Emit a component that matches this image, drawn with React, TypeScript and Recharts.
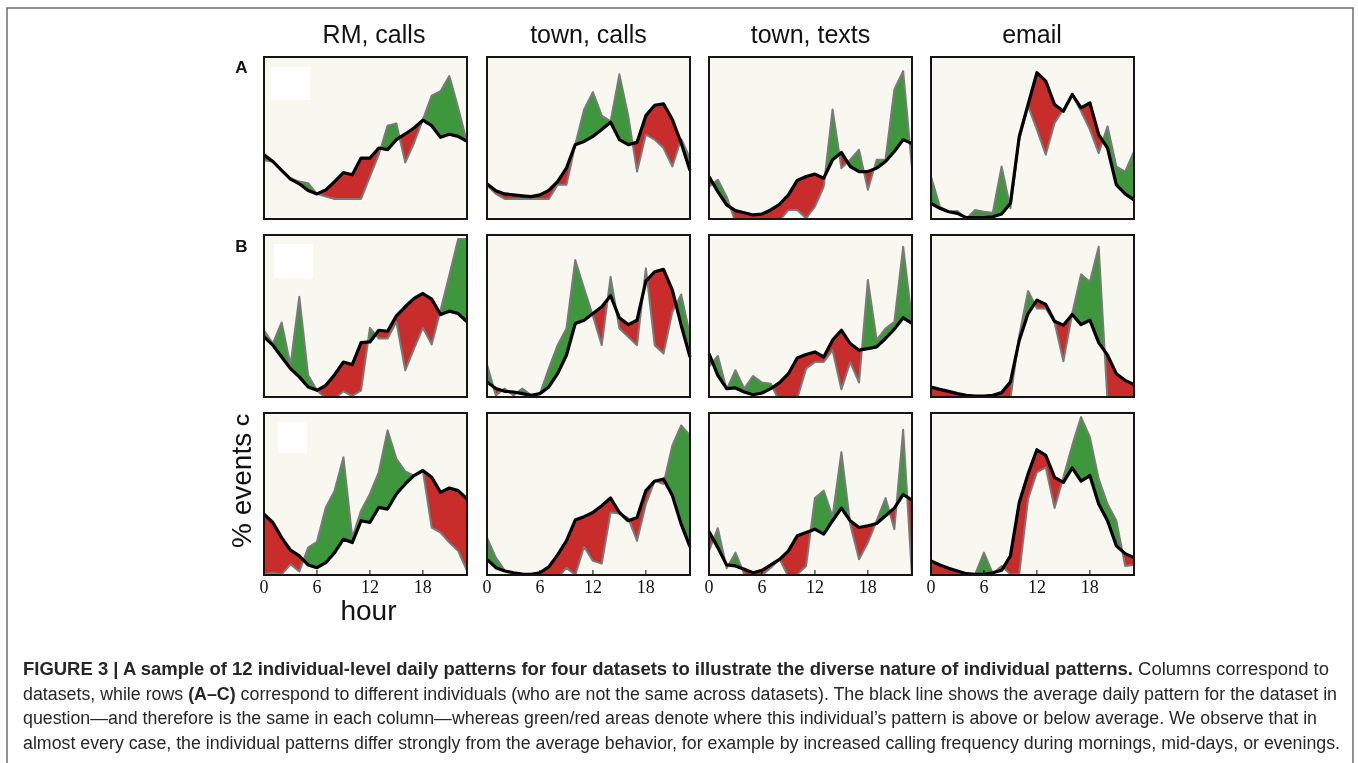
import React from "react";
import { ComposedChart, Area, Line, XAxis, YAxis } from "recharts";

// hours of the day on the x axis
const HOURS = [0, 1, 2, 3, 4, 5, 6, 7, 8, 9, 10, 11, 12, 13, 14, 15, 16, 17, 18, 19, 20, 21, 22, 23];
const HOUR_TICKS = [0, 6, 12, 18];
const COLUMN_TITLES = ["RM, calls", "town, calls", "town, texts", "email"];
const ROW_LABELS = ["A", "B", "C"];

// values are % of each panel's height (panels are scaled one by one)
// row A
const avgA1 = [39.7, 35.5, 30.0, 24.6, 21.7, 17.6, 15.5, 18.0, 23.1, 28.7, 27.3, 37.6, 37.6, 43.8, 42.8, 49.0, 52.5, 56.2, 61.0, 57.6, 50.4, 52.3, 51.0, 47.9];
const indA1 = [36.2, 35.5, 30.0, 25.2, 23.1, 22.1, 15.5, 13.8, 12.4, 12.4, 12.4, 12.4, 26.2, 39.7, 57.6, 58.9, 34.9, 46.9, 61.4, 76.2, 78.9, 88.2, 68.6, 47.3];
const avgA2 = [21.7, 17.4, 15.5, 14.9, 14.3, 13.8, 14.9, 17.6, 23.1, 31.4, 45.9, 47.9, 51.0, 55.2, 59.7, 49.0, 45.9, 47.3, 63.8, 70.2, 71.1, 61.4, 46.9, 30.0];
const indA2 = [20.7, 15.5, 12.4, 12.4, 12.4, 12.4, 12.4, 12.4, 21.1, 21.1, 45.9, 67.6, 78.3, 63.8, 60.3, 89.3, 63.8, 29.3, 52.1, 49.0, 43.8, 32.4, 49.4, 37.6];
const avgA3 = [26.2, 16.9, 8.7, 5.2, 3.9, 2.5, 3.1, 5.6, 9.1, 14.9, 23.8, 26.2, 27.7, 25.2, 36.6, 41.1, 32.4, 29.3, 29.3, 31.4, 35.5, 41.7, 49.0, 46.5];
const indA3 = [20.0, 24.2, 13.8, -2, -3, -3, -2, -1, -1, 5.6, 5.6, 0.4, 7.6, 20.0, 67.6, 31.4, 36.6, 42.8, 18.0, 36.6, 36.6, 80.0, 91.3, 31.4];
const avgA4 = [9.7, 6.6, 4.5, 3.5, 0.8, 0.8, 0.8, 1.4, 3.1, 9.7, 51.0, 70.7, 90.3, 85.1, 70.7, 66.5, 76.9, 68.6, 71.7, 52.1, 43.8, 21.1, 15.5, 11.8];
const indA4 = [26.2, 7.6, 4.5, 5.0, 0, 5.6, 4.5, 3.9, 32.4, 6.6, 49.0, 69.6, 55.2, 39.7, 59.3, 67.6, 76.9, 66.5, 55.2, 40.7, 57.2, 32.4, 29.3, 41.7];
// row B
const avgB1 = [37.1, 32.0, 24.7, 17.5, 12.4, 6.2, 4.1, 7.2, 13.8, 21.6, 20.0, 33.6, 34.0, 41.2, 40.6, 50.1, 55.7, 60.8, 63.9, 60.4, 50.9, 53.0, 51.5, 46.4];
const indB1 = [41.2, 33.0, 46.0, 19.6, 61.9, 13.4, 4.1, -1, -1, 3.5, 0.6, 4.1, 42.7, 36.1, 36.1, 46.4, 16.5, 29.9, 42.7, 32.4, 53.6, 75.3, 97.5, 97.5];
const avgB2 = [9.3, 5.2, 3.5, 3.1, 2.1, 1.0, 2.1, 6.2, 14.4, 25.8, 45.4, 47.4, 51.5, 55.7, 62.5, 48.9, 44.7, 47.4, 71.5, 77.3, 78.8, 66.0, 44.3, 24.7];
const indB2 = [20.0, 1.0, 5.2, 1.0, 5.2, 1.0, 2.1, 17.5, 32.0, 42.3, 84.5, 67.0, 50.1, 32.0, 74.2, 42.3, 37.1, 32.0, 79.4, 32.0, 26.8, 52.6, 63.3, 38.1];
const avgB3 = [26.8, 13.4, 5.2, 5.6, 3.1, 1.4, 2.5, 5.2, 8.9, 14.4, 24.1, 26.2, 27.8, 24.7, 35.1, 41.2, 33.0, 28.9, 29.9, 30.9, 36.1, 41.9, 48.9, 45.4];
const indB3 = [18.6, 25.4, 4.7, 16.5, 5.2, 13.0, 8.9, 8.2, -3, -3, -1, 17.5, 21.6, 21.6, 28.9, 4.7, 21.6, 8.9, 72.2, 35.1, 42.3, 46.4, 92.8, 47.4];
const avgB4 = [6.2, 4.7, 3.5, 2.1, 1.0, 0.6, 0.6, 1.0, 2.7, 9.3, 35.1, 51.5, 59.8, 57.1, 46.8, 44.3, 50.9, 44.7, 47.4, 33.6, 25.8, 14.4, 10.3, 7.6];
const indB4 = [-2, -2, -2, -2, -2, -2, -2, -2, -2, -1, 38.1, 65.4, 54.6, 54.6, 46.0, 22.1, 51.5, 75.7, 71.1, 92.8, -3, -3, -3, -3];
// row C
const avgC1 = [37.6, 32.4, 23.1, 15.3, 11.8, 6.2, 4.5, 7.6, 13.8, 22.1, 20.0, 33.5, 32.4, 41.7, 40.7, 50.0, 56.2, 61.4, 64.5, 60.3, 51.0, 53.7, 52.1, 46.9];
const indC1 = [0.4, 1.4, 0.4, 6.6, 2.1, 16.9, 20.5, 41.7, 52.1, 72.7, 23.1, 39.7, 50.0, 63.4, 89.3, 71.7, 64.0, 61.4, 64.5, 29.3, 26.2, 20.0, 14.9, 2.5];
const avgC2 = [9.7, 4.5, 2.5, 1.4, 0.6, 0.4, 1.4, 5.0, 12.4, 21.1, 33.9, 36.0, 38.6, 42.8, 47.5, 38.6, 33.5, 35.5, 52.1, 57.9, 59.3, 49.0, 31.4, 17.4];
const indC2 = [23.1, 10.7, 2.9, 1.0, 0, 0, 0, -1, -2, 4.5, 0, 17.4, 8.7, 7.0, 38.6, 38.0, 35.1, 21.1, 43.8, 58.3, 56.2, 80.0, 92.4, 86.2];
const avgC3 = [26.9, 16.9, 6.2, 5.6, 3.5, 1.4, 2.9, 6.2, 9.7, 14.9, 24.2, 26.2, 28.3, 25.2, 33.5, 41.3, 33.5, 29.3, 30.4, 31.8, 36.6, 41.3, 49.6, 46.3];
const indC3 = [14.9, 28.9, 4.1, 13.8, 0.4, -1, 0, 4.5, 9.7, -1, 0.4, 5.6, 47.5, 52.1, 36.0, 75.8, 31.4, 9.7, 20.0, 33.5, 47.5, 28.3, 89.7, -1];
const avgC4 = [8.7, 6.2, 4.1, 2.5, 0.8, 0.4, 0.4, 1.4, 2.9, 11.8, 44.8, 62.4, 77.3, 73.8, 60.3, 57.2, 66.1, 57.9, 61.4, 43.8, 33.5, 18.0, 13.2, 10.7];
const indC4 = [-1, -1, -1, -1, 0, 0.4, 13.8, 0.8, 5.6, 0.4, 0.8, 46.9, 63.4, 66.5, 41.3, 60.3, 80.0, 97.5, 85.1, 59.3, 43.8, 33.5, 5.6, 6.2];

const PANELS = [
  [[avgA1, indA1], [avgA2, indA2], [avgA3, indA3], [avgA4, indA4]],
  [[avgB1, indB1], [avgB2, indB2], [avgB3, indB3], [avgB4, indB4]],
  [[avgC1, indC1], [avgC2, indC2], [avgC3, indC3], [avgC4, indC4]],
];

const GREEN = "#3f9a41";
const RED = "#cd2e2e";
const IVORY = "#f9f8f0";
const GREY = "#7a7a7a";

const PANEL_W = 203;
const PANEL_H = 162;
const AXIS_H = 40;
const SIDE = 15; // room for tick labels at the panel edges
const COL_LEFT = [264, 487, 709, 931];
const ROW_TOP = [57, 235, 413];
const TITLE_X = [374, 588.5, 810.5, 1032];
// blank legend boxes in the first column
const LEGEND_BOX = [
  { left: 7, top: 10, width: 39, height: 33 },
  { left: 10, top: 9, width: 39, height: 34 },
  { left: 14, top: 9, width: 29, height: 31 },
];

const NO_MARGIN = { top: 0, right: 0, bottom: 0, left: 0 };
const SIDE_MARGIN = { top: 0, right: SIDE, bottom: 0, left: SIDE };

type PanelProps = {
  avg: number[];
  ind: number[];
  left: number;
  top: number;
  ticks: boolean;
  legendBox?: { left: number; top: number; width: number; height: number };
};

const Panel = ({ avg, ind, left, top, ticks, legendBox }: PanelProps) => {
  const data = HOURS.map((hour, i) => ({ hour, avg: avg[i], ind: ind[i] }));
  const layer: React.CSSProperties = { position: "absolute", left: 0, top: 0 };
  return (
    <div style={{ position: "absolute", left, top, width: PANEL_W, height: PANEL_H, background: IVORY }}>
      {legendBox && <div style={{ position: "absolute", background: "#fff", ...legendBox }} />}
      {/* green: under individual, above average */}
      <div style={{ ...layer, mixBlendMode: "multiply" }}>
        <ComposedChart width={PANEL_W} height={PANEL_H} data={data} margin={NO_MARGIN}>
          <XAxis type="number" dataKey="hour" domain={[0, 23]} hide />
          <YAxis type="number" domain={[0, 100]} allowDataOverflow hide />
          <Area type="linear" dataKey="ind" fill={GREEN} fillOpacity={1} stroke="none" activeDot={false} isAnimationActive={false} />
          <Area type="linear" dataKey="avg" fill="#ffffff" fillOpacity={1} stroke="none" activeDot={false} isAnimationActive={false} />
        </ComposedChart>
      </div>
      {/* red: under average, above individual */}
      <div style={{ ...layer, mixBlendMode: "multiply" }}>
        <ComposedChart width={PANEL_W} height={PANEL_H} data={data} margin={NO_MARGIN}>
          <XAxis type="number" dataKey="hour" domain={[0, 23]} hide />
          <YAxis type="number" domain={[0, 100]} allowDataOverflow hide />
          <Area type="linear" dataKey="avg" fill={RED} fillOpacity={1} stroke="none" activeDot={false} isAnimationActive={false} />
          <Area type="linear" dataKey="ind" fill="#ffffff" fillOpacity={1} stroke="none" activeDot={false} isAnimationActive={false} />
        </ComposedChart>
      </div>
      <div style={{ ...layer, left: -SIDE }}>
        <ComposedChart
          width={PANEL_W + 2 * SIDE}
          height={ticks ? PANEL_H + AXIS_H : PANEL_H}
          data={data}
          margin={SIDE_MARGIN}
        >
          {ticks ? (
            <XAxis
              type="number"
              dataKey="hour"
              domain={[0, 23]}
              ticks={HOUR_TICKS}
              interval={0}
              height={AXIS_H}
              axisLine={false}
              tickSize={-5}
              tickMargin={10}
              tickLine={{ stroke: "#000", strokeWidth: 1 }}
              tick={{ fontFamily: '"Liberation Serif", serif', fontSize: 18, fill: "#111" }}
            />
          ) : (
            <XAxis type="number" dataKey="hour" domain={[0, 23]} hide />
          )}
          {ticks && (
            <XAxis
              xAxisId="top"
              orientation="top"
              type="number"
              dataKey="hour"
              domain={[0, 23]}
              ticks={HOUR_TICKS}
              interval={0}
              height={0}
              axisLine={false}
              tickSize={-5}
              tickFormatter={() => ""}
              tickLine={{ stroke: "#000", strokeWidth: 1 }}
            />
          )}
          <YAxis type="number" domain={[0, 100]} allowDataOverflow hide />
          <Line type="linear" dataKey="ind" stroke={GREY} strokeWidth={2} strokeLinejoin="round" dot={false} activeDot={false} isAnimationActive={false} />
          <Line type="linear" dataKey="avg" stroke="#000" strokeWidth={3.2} strokeLinejoin="round" dot={false} activeDot={false} isAnimationActive={false} />
        </ComposedChart>
      </div>
      <div
        style={{
          position: "absolute",
          left: -1,
          top: -1,
          width: PANEL_W + 2,
          height: PANEL_H + 2,
          border: "2px solid #151515",
          boxSizing: "border-box",
        }}
      />
    </div>
  );
};

const SANS = '"Liberation Sans", Arial, sans-serif';

export default function App() {
  return (
    <div style={{ position: "absolute", left: 0, top: 0, width: 1358, height: 763, background: "#fff", overflow: "hidden" }}>
      <svg width={1358} height={763} style={{ position: "absolute", left: 0, top: 0 }}>
        <rect x={7} y={8} width={1346} height={800} fill="none" stroke="#6e6e6e" strokeWidth={1.5} />
        {COLUMN_TITLES.map((t, i) => (
          <text key={t} x={TITLE_X[i]} y={43} textAnchor="middle" fontFamily={SANS} fontSize={25} fill="#111">
            {t}
          </text>
        ))}
        <text x={241.5} y={73} textAnchor="middle" fontFamily={SANS} fontWeight={700} fontSize={17} fill="#111">
          {ROW_LABELS[0]}
        </text>
        <text x={241.5} y={252} textAnchor="middle" fontFamily={SANS} fontWeight={700} fontSize={17} fill="#111">
          {ROW_LABELS[1]}
        </text>
        <text x={251} y={548} transform="rotate(-90 251 548)" fontFamily={SANS} fontSize={28} fill="#111">
          % events
        </text>
        <text x={248.5} y={426} transform="rotate(-90 248.5 426)" fontFamily={SANS} fontWeight={700} fontSize={17} fill="#111">
          {ROW_LABELS[2]}
        </text>
        <text x={368.5} y={620} textAnchor="middle" fontFamily={SANS} fontSize={28} fill="#111">
          hour
        </text>
        <g fontFamily={SANS} fontSize={18} fill="#262626">
          <text x={23} y={675} textLength={1306} lengthAdjust="spacingAndGlyphs">
            <tspan fontWeight={700}>
              FIGURE 3 | A sample of 12 individual-level daily patterns for four datasets to illustrate the diverse nature of individual patterns.
            </tspan>
            <tspan>{" Columns correspond to"}</tspan>
          </text>
          <text x={23} y={699.5} textLength={1314} lengthAdjust="spacingAndGlyphs">
            <tspan>{"datasets, while rows "}</tspan>
            <tspan fontWeight={700}>(A–C)</tspan>
            <tspan>
              {" correspond to different individuals (who are not the same across datasets). The black line shows the average daily pattern for the dataset in"}
            </tspan>
          </text>
          <text x={23} y={724} textLength={1294} lengthAdjust="spacingAndGlyphs">
            question—and therefore is the same in each column—whereas green/red areas denote where this individual’s pattern is above or below average. We observe that in
          </text>
          <text x={23} y={748.5} textLength={1317} lengthAdjust="spacingAndGlyphs">
            almost every case, the individual patterns differ strongly from the average behavior, for example by increased calling frequency during mornings, mid-days, or evenings.
          </text>
        </g>
      </svg>
      {PANELS.map((row, r) =>
        row.map(([avg, ind], c) => (
          <Panel
            key={`${r}-${c}`}
            avg={avg}
            ind={ind}
            left={COL_LEFT[c]}
            top={ROW_TOP[r]}
            ticks={r === 2}
            legendBox={c === 0 ? LEGEND_BOX[r] : undefined}
          />
        ))
      )}
    </div>
  );
}
